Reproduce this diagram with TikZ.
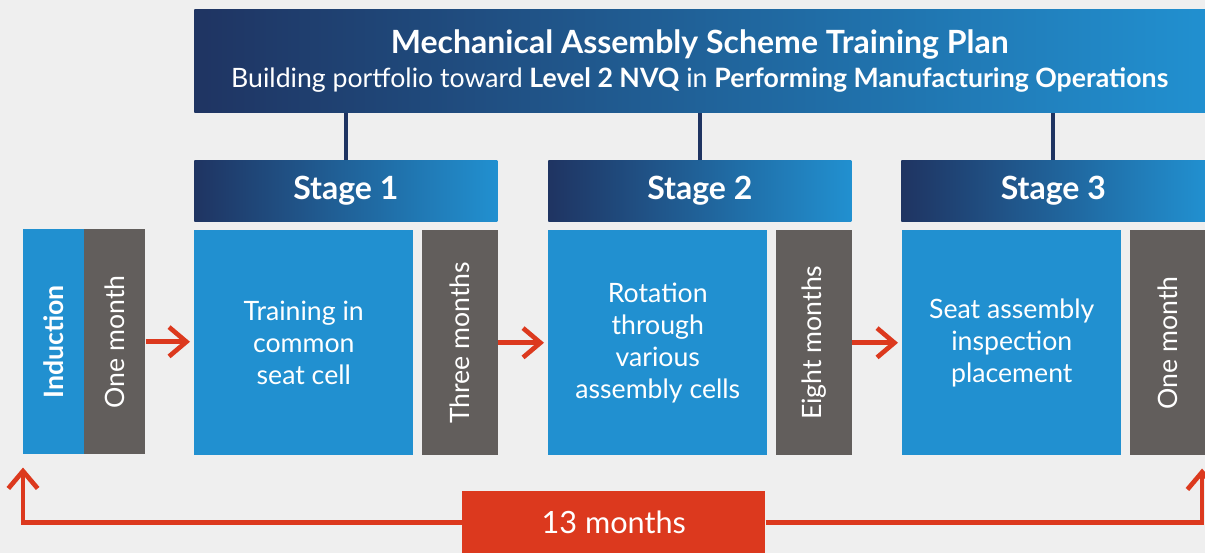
\documentclass[tikz,border=0pt]{standalone}
\usepackage{fontspec}
\setmainfont{Lato}
\usetikzlibrary{arrows.meta, positioning, calc}
\definecolor{navy}{RGB}{31,52,98}
\definecolor{skyblue}{RGB}{33,144,208}
\definecolor{slate}{RGB}{98,94,92}
\definecolor{brick}{RGB}{220,57,30}
\definecolor{paper}{RGB}{239,239,239}

\begin{document}
\begin{tikzpicture}[x=0.75pt, y=-0.75pt, >={Straight Barb[length=13pt, width=22pt]}]
    \tikzstyle{band} = [left color=navy, right color=skyblue, text=white, inner sep=0pt, anchor=north west]
    \tikzstyle{task} = [fill=skyblue, text=white, inner sep=0pt, anchor=north west, align=center,
        minimum width=164.25pt, minimum height=168.75pt, font=\fontsize{20}{24}\selectfont]
    \tikzstyle{span} = [fill=slate, text=white, inner sep=0pt,
        minimum width=57pt, minimum height=168.75pt, font=\fontsize{20}{24}\selectfont]
    \tikzstyle{flow} = [draw=brick, line width=3.5pt]
    \tikzstyle{tie} = [draw=navy, line width=3pt]
    \path[use as bounding box, fill=paper] (0,0) rectangle (1205,553);
    % plan and stages
    \node [band, align=center, minimum width=758.25pt, minimum height=77.25pt] at (194,9) (plan)
        {\fontsize{24}{28}\selectfont\bfseries Mechanical Assembly Scheme Training Plan\\[5pt]
         \fontsize{20}{24}\selectfont Building portfolio toward \textbf{Level 2 NVQ} in \textbf{Performing Manufacturing Operations}};
    \node [band, minimum width=227.25pt, minimum height=45.75pt, font=\fontsize{24}{28}\selectfont\bfseries] at (194,160) (s1) {Stage 1};
    \node [band, minimum width=227.25pt, minimum height=45.75pt, font=\fontsize{24}{28}\selectfont\bfseries] at (548,160) (s2) {Stage 2};
    \node [band, minimum width=228pt, minimum height=45.75pt, font=\fontsize{24}{28}\selectfont\bfseries] at (901,160) (s3) {Stage 3};
    \draw[tie] (s1.north) -- (s1.north |- plan.south);
    \draw[tie] (s2.north) -- (s2.north |- plan.south);
    \draw[tie] (s3.north) -- (s3.north |- plan.south);
    % boxes
    \node [task, minimum width=46pt, font=\fontsize{20}{24}\selectfont\bfseries] at (23,229) (ind) {\rotatebox{90}{Induction}};
    \node [span, minimum width=45.75pt, right=-0.5pt of ind] (g0) {\rotatebox{90}{One month}};
    \node [task] at (194,230) (t1) {Training in\\common\\seat cell};
    \node [span, right=6pt of t1] (g1) {\rotatebox{90}{Three months}};
    \node [task] at (548,230) (t2) {Rotation\\through\\various\\assembly cells};
    \node [span, right=6pt of t2] (g2) {\rotatebox{90}{Eight months}};
    \node [task] at (902,230) (t3) {Seat assembly\\inspection\\placement};
    \node [span, right=6pt of t3] (g3) {\rotatebox{90}{One month}};
    \draw[flow, ->, shorten >=3pt] (g0.east) -- (g0.east -| t1.west);
    \draw[flow, ->, shorten >=3pt] (g1.east) -- (g1.east -| t2.west);
    \draw[flow, ->, shorten >=3pt] (g2.east) -- (g2.east -| t3.west);
    % total
    \node [fill=brick, text=white, inner sep=0pt, anchor=north west, minimum width=227.25pt, minimum height=46.5pt,
        font=\fontsize{23}{27}\selectfont] at (462,491) (total) {13 months};
    \coordinate (lt) at ($(ind.south west)+(0,13)$);
    \coordinate (rt) at ($(g3.south east)+(-4,13)$);
    \draw[flow, ->] (total.west) -| (lt);
    \draw[flow, ->] (total.east) -| (rt);
\end{tikzpicture}
\end{document}
